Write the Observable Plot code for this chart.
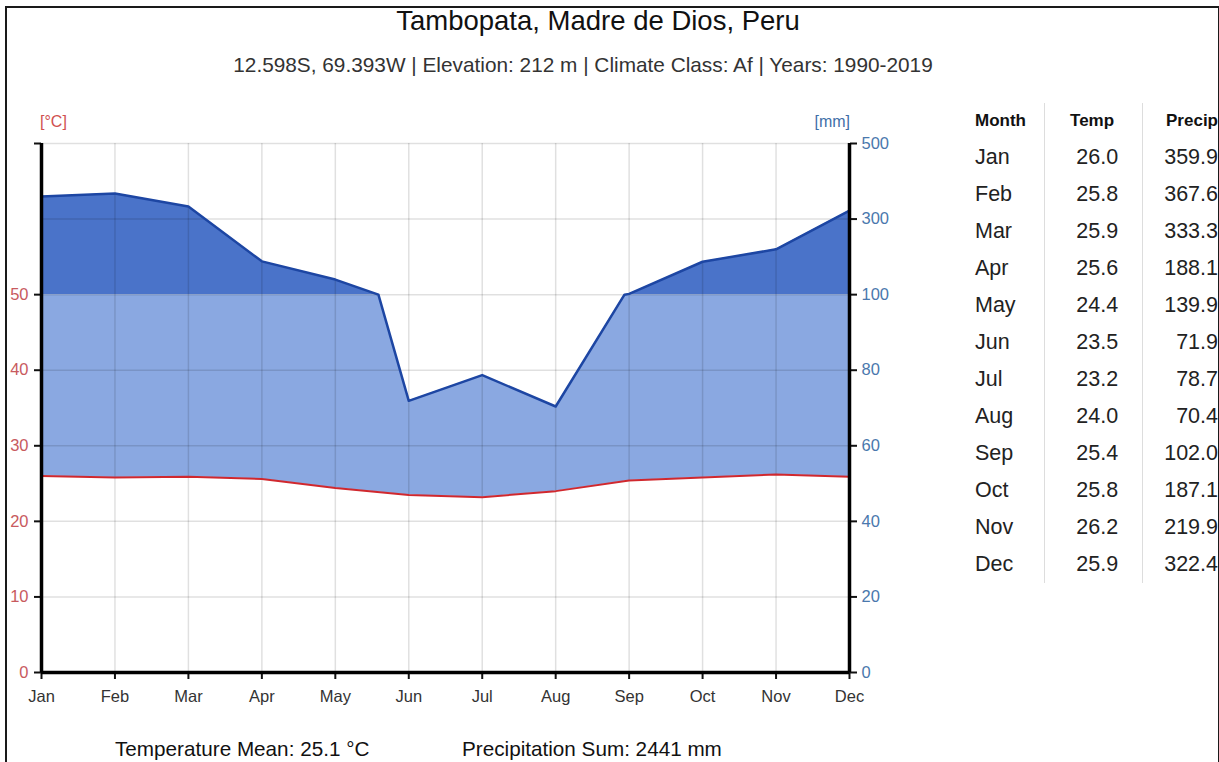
<!DOCTYPE html>
<html>
<head>
<meta charset="utf-8">
<script src="https://cdn.jsdelivr.net/npm/d3@7"></script>
<script src="https://cdn.jsdelivr.net/npm/@observablehq/plot@0.6"></script>
<style>
  html, body { margin: 0; padding: 0; background: #fff; }
  body { width: 1219px; height: 762px; overflow: hidden; position: relative; font-family: "Liberation Sans", Arial, sans-serif; color: #222; }
  #frame { position: absolute; left: 5px; top: 6px; width: 1211px; height: 800px; border: 2px solid #1a1a1a; overflow: hidden; }
  .abs { position: absolute; white-space: nowrap; }
  #title { font-size: 27.5px; color: #111; top: -3px; left: 0; width: 1182px; text-align: center; }
  #subtitle { font-size: 20.8px; color: #333; top: 45px; left: 0; width: 1152px; text-align: center; }
  #unitC { font-size: 16px; color: #d05050; left: 33px; top: 105px; }
  #unitMM { font-size: 16px; color: #3f6fa8; right: 368px; top: 105px; }
  #chart { position: absolute; left: -12px; top: 86px; }
  #stats1 { font-size: 20.7px; color: #111; left: 108px; top: 729px; }
  #stats2 { font-size: 20.7px; color: #111; left: 455px; top: 729px; }
  #tbl { position: absolute; left: 933px; top: 95px; border-collapse: collapse; }
  #tbl th { font-size: 17px; font-weight: bold; height: 36px; padding: 0; color: #111; }
  #tbl td { font-size: 21.5px; height: 37px; padding: 0; color: #222; }
  #tbl .c1 { width: 106px; text-align: left; padding-left: 35px; box-sizing: border-box; border-right: 1px solid #ddd; }
  #tbl .c2 { width: 100px; text-align: right; padding-right: 24px; box-sizing: border-box; border-right: 1px solid #ddd; }
  #tbl .c3 { width: 77px; text-align: right; padding-right: 0px; box-sizing: border-box; }
  #tbl th.c2 { text-align: right; padding-right: 28px; }
  #tbl th.c3 { text-align: right; }
</style>
</head>
<body>
<div id="frame">
  <div id="title" class="abs">Tambopata, Madre de Dios, Peru</div>
  <div id="subtitle" class="abs">12.598S, 69.393W | Elevation: 212 m | Climate Class: Af | Years: 1990-2019</div>
  <div id="unitC" class="abs">[°C]</div>
  <div id="unitMM" class="abs">[mm]</div>
  <div id="chart"></div>
  <table id="tbl"><thead><tr><th class="c1">Month</th><th class="c2">Temp</th><th class="c3">Precip</th></tr></thead><tbody id="tbody"></tbody></table>
  <div id="stats1" class="abs">Temperature Mean: 25.1 °C</div>
  <div id="stats2" class="abs">Precipitation Sum: 2441 mm</div>
</div>
<script>
// ---- data ----
const months = ["Jan","Feb","Mar","Apr","May","Jun","Jul","Aug","Sep","Oct","Nov","Dec"];
const temp = [26.0, 25.8, 25.9, 25.6, 24.4, 23.5, 23.2, 24.0, 25.4, 25.8, 26.2, 25.9];
const precip = [359.9, 367.6, 333.3, 188.1, 139.9, 71.9, 78.7, 70.4, 102.0, 187.1, 219.9, 322.4];
const tempTicks = [0, 10, 20, 30, 40, 50];
const precipTicks = [0, 20, 40, 60, 80, 100, 300, 500];

// Walter-Lieth scaling: 10 °C = 20 mm; above 100 mm compressed 1:10
const ty = t => 2 * t;
const py = p => p <= 100 ? p : 100 + (p - 100) / 10;
const pyInv = v => v <= 100 ? v : 100 + (v - 100) * 10;

// series with the points where precipitation crosses 100 mm (for fills/line breaks)
const pts = [];
for (let i = 0; i < months.length; i++) {
  pts.push({x: i, t: temp[i], p: precip[i]});
  if (i < months.length - 1 && (precip[i] - 100) * (precip[i + 1] - 100) < 0) {
    const f = (100 - precip[i]) / (precip[i + 1] - precip[i]);
    pts.push({x: i + f, t: temp[i] + f * (temp[i + 1] - temp[i]), p: 100});
  }
}
const tempPts = months.map((m, i) => ({x: i, t: temp[i]}));

const dark = "#4a73c9", light = "#8aa8e1", lineBlue = "#1d46a3", red = "#d0282e";

const chart = Plot.plot({
  width: 900,
  height: 618,
  marginLeft: 46,
  marginRight: 46,
  marginTop: 49,
  marginBottom: 40,
  style: {fontFamily: "'Liberation Sans', Arial, sans-serif", fontSize: "16px", background: "transparent", overflow: "visible"},
  x: {type: "linear", domain: [0, 11], axis: null},
  y: {type: "linear", domain: [0, 140], axis: null},
  marks: [
    Plot.areaY(pts, {x: "x", y1: () => 100, y2: d => Math.max(py(d.p), 100), fill: dark}),
    Plot.areaY(pts, {x: "x", y1: d => ty(d.t), y2: d => Math.min(py(d.p), 100), fill: light}),
    Plot.gridY(d3.range(0, 141, 20), {stroke: "#000", strokeOpacity: 0.12, strokeWidth: 1.5}),
    Plot.gridX(d3.range(0, 12), {stroke: "#000", strokeOpacity: 0.12, strokeWidth: 1.5}),
    Plot.line(pts, {x: "x", y: d => py(d.p), stroke: lineBlue, strokeWidth: 2.5}),
    Plot.line(tempPts, {x: "x", y: d => ty(d.t), stroke: red, strokeWidth: 2}),
    Plot.axisY(tempTicks.map(ty), {anchor: "left", tickFormat: v => v / 2, tickSize: 7, tickPadding: 6, stroke: "#111", strokeWidth: 2, fill: "#c85a5e", label: null}),
    Plot.axisY([140], {anchor: "left", tickFormat: () => "", tickSize: 7, stroke: "#111", strokeWidth: 2, label: null}),
    Plot.axisY(precipTicks.map(py), {anchor: "right", tickFormat: v => pyInv(v), tickSize: 7, tickPadding: 5, stroke: "#111", strokeWidth: 2, fill: "#4a78ad", label: null}),
    Plot.axisX(d3.range(0, 12), {tickFormat: i => months[i], tickSize: 7, tickPadding: 11, stroke: "#111", strokeWidth: 2, fill: "#333", label: null}),
    Plot.ruleX([0, 11], {y1: 0, y2: 140, stroke: "#000", strokeWidth: 3.5}),
    Plot.ruleY([0], {x1: 0, x2: 11, stroke: "#000", strokeWidth: 3.5})
  ]
});
chart.querySelectorAll("text").forEach(t => { t.style.fontSize = "16.5px"; });
document.getElementById("chart").appendChild(chart);

// table
const tb = document.getElementById("tbody");
months.forEach((m, i) => {
  const tr = document.createElement("tr");
  tr.innerHTML = `<td class="c1">${m}</td><td class="c2">${temp[i].toFixed(1)}</td><td class="c3">${precip[i].toFixed(1)}</td>`;
  tb.appendChild(tr);
});
</script>
</body>
</html>
